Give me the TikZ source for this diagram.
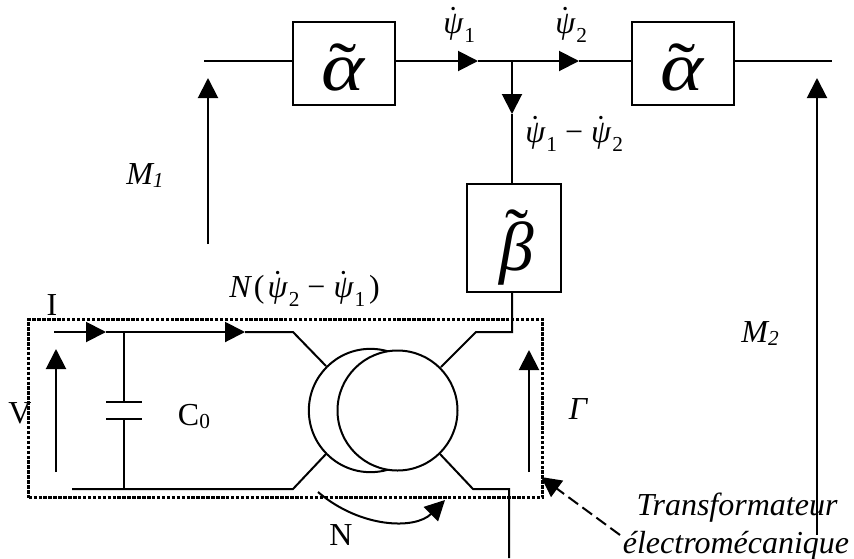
\documentclass[tikz,border=0pt]{standalone}
\usepackage{fontspec}
\setmainfont{Liberation Serif}
\usetikzlibrary{arrows.meta}
\newcommand{\acc}[3]{\setbox0\hbox{#1}\leavevmode\rlap{\raise#3\hbox to \wd0{\hss\normalfont#2\hss}}\box0 }
\newcommand{\psd}[1]{\acc{\itshape ψ}{˙}{0.13em}\kern0.04em\lower0.3em\hbox{\fontsize{16}{18}\selectfont #1}}
\newcommand{\sbs}[1]{\lower0.12em\hbox{\fontsize{16}{18}\selectfont #1}}
\tikzset{
 x=0.75pt,y=-0.75pt,
 wire/.style={line width=1.5pt,line join=miter},
 blockbox/.style={draw,line width=1.6pt,inner sep=0pt,outer sep=0pt},
 glyph/.style={inner sep=0pt,anchor=base,font=\fontsize{52}{54}\selectfont},
 tri/.style={line width=1.5pt,-{Triangle[length=15pt,width=15pt]},shorten >=0pt},
 lbl/.style={inner sep=0pt,anchor=base,font=\fontsize{24}{28}\selectfont},
 ilbl/.style={inner sep=0pt,anchor=base,font=\fontsize{24}{28}\selectfont\itshape},
 coil/.style={draw,line width=1.5pt,fill=white},
}
\begin{document}
\begin{tikzpicture}
\useasboundingbox (0,0) rectangle (854,558);
% blocks
\node[blockbox,minimum width=76.5pt,minimum height=62.5pt,anchor=north west] (a1) at (293,22) {};
\node[blockbox,minimum width=76.5pt,minimum height=62.5pt,anchor=north west] (a2) at (632,22) {};
\node[blockbox,minimum width=70.5pt,minimum height=81pt,anchor=north west] (b) at (467,184) {};
\node[glyph] (ga1) at (343,90) {\scalebox{1.18}[1]{\acc{\itshape α}{\fontsize{52}{54}\selectfont ˜}{0pt}}};
\node[glyph] (ga2) at (682,90) {\scalebox{1.18}[1]{\acc{\itshape α}{\fontsize{52}{54}\selectfont ˜}{0pt}}};
\node[glyph] (gb) at (517,270) {\acc{\itshape β}{\fontsize{52}{54}\selectfont ˜}{0.2em}};
% named points
\coordinate (L0) at (204,61);
\coordinate (R0) at (832,61);
\coordinate (J) at (512,61);
\coordinate (T1) at (478,61);
\coordinate (T2) at (579,61);
\coordinate (T3) at (512,114);
\coordinate (bb) at (512,332);
\coordinate (tr1) at (476,332);
\coordinate (tr2) at (441,367);
\coordinate (tl0) at (54,332);
\coordinate (tl1) at (293,332);
\coordinate (tl2) at (326,366);
\coordinate (ti) at (106,332);
\coordinate (ti2) at (245,332);
\coordinate (cT) at (124,332);
\coordinate (cA) at (124,402);
\coordinate (cB) at (124,419);
\coordinate (cE) at (124,489);
\coordinate (bl0) at (72,489);
\coordinate (bl1) at (293,489);
\coordinate (bl2) at (326,454);
\coordinate (br2) at (440,454);
\coordinate (br1) at (473,489);
\coordinate (br0) at (509,489);
\coordinate (brd) at (509,558);
% wires
\draw[wire] (L0) -- (a1.west |- L0);
\draw[tri] (a1.east |- J) -- (T1);
\draw[wire] (T1) -- (J);
\draw[tri] (J) -- (T2);
\draw[wire] (T2) -- (a2.west |- J);
\draw[wire] (a2.east |- J) -- (R0);
\draw[tri] (J) -- (T3);
\draw[wire] (T3) -- (b.north -| J);
\draw[wire] (b.south -| J) -- (bb) -- (tr1) -- (tr2);
\draw[tri] (tl0) -- (ti);
\draw[tri] (ti) -- (ti2);
\draw[wire] (ti2) -- (tl1) -- (tl2);
\draw[wire] (bl0) -- (bl1) -- (bl2);
\draw[wire] (br2) -- (br1) -- (br0) -- (brd);
% capacitor
\draw[wire] (cT) -- (cA) (cB) -- (cE);
\draw[wire] (106,402) -- (142,402) (106,419) -- (142,419);
% coils
\node[coil,circle,minimum size=92.5pt,inner sep=0pt] (c1) at (370.5,410.5) {};
\node[coil,circle,minimum size=90pt,inner sep=0pt] (c2) at (397.5,410.5) {};
% voltage arrows
\coordinate (v0) at (56,472); \coordinate (v1) at (56,349);
\coordinate (g0) at (529,472); \coordinate (g1) at (529,350);
\coordinate (m10) at (208,244); \coordinate (m11) at (208,78);
\coordinate (m20) at (817,535); \coordinate (m21) at (817,78);
\draw[tri] (v0) -- (v1);
\draw[tri] (g0) -- (g1);
\draw[tri] (m10) -- (m11);
\draw[tri] (m20) -- (m21);
% dotted frame
\node[draw,line width=2.5pt,dash pattern=on 2.6pt off 1.1pt,inner sep=0pt,minimum width=385.5pt,minimum height=133.5pt,anchor=north west] (frame) at (27,318) {};
% N arc
\coordinate (n0) at (318,492); \coordinate (n1) at (445,500);
\draw[tri] (n0) .. controls (360,528) and (415,530) .. (n1);
% dashed arrow
\coordinate (d0) at (620,535); \coordinate (d1) at (541,477);
\draw[line width=1.5pt,dash pattern=on 9pt off 4pt,-{Triangle[length=15pt,width=15pt]}] (d0) -- (d1);
% labels
\node[lbl] (lI) at (52,315) {I};
\node[lbl] (lV) at (20,423) {V};
\node[lbl] (lC) at (194,425) {C\sbs{0}};
\node[lbl] (lN) at (341,545) {N};
\node[ilbl] (lG) at (578,419) {Γ};
\node[ilbl] (lM1) at (145,184) {M\sbs{1}};
\node[ilbl] (lM2) at (760,342) {M\sbs{2}};
\node[lbl,anchor=base west] (l1) at (443,33) {\psd{1}};
\node[lbl,anchor=base west] (l2) at (555,33) {\psd{2}};
\node[lbl,anchor=base west] (l3) at (525,142) {\psd{1} − \psd{2}};
\node[lbl,anchor=base west] (l4) at (229,297) {{\itshape N}\kern0.1em(\kern0.1em\psd{2} − \psd{1}\kern0.12em)};
\node[ilbl] (t1) at (737,515) {Transformateur};
\node[ilbl] (t2) at (736,553) {électromécanique};
\end{tikzpicture}
\end{document}
